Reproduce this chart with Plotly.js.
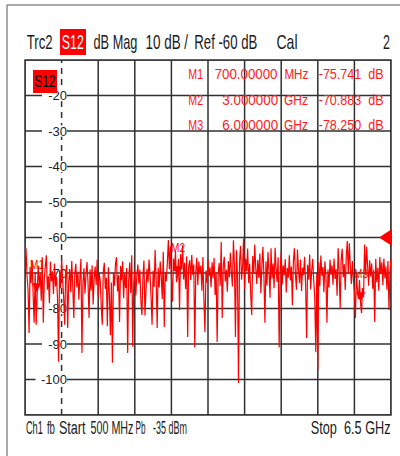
<!DOCTYPE html>
<html><head><meta charset="utf-8">
<script src="https://cdn.plot.ly/plotly-3.0.1.min.js"></script>
<style>html,body{margin:0;padding:0;background:#fff;} #chart{width:400px;height:456px;}</style>
</head><body><div id="chart"></div>
<script>
// ---- data ----
const startGHz = 0.5;
const stopGHz = 6.5;
const s12dB = [
 -65.2,-63.0,-70.8,-74.6,-86.9,-68.3,-72.9,-66.4,-76.1,-84.0,
 -69.7,-84.6,-75.741,-67.9,-73.3,-70.2,-77.8,-65.6,-84.0,-71.4,
 -68.1,-65.0,-74.7,-70.9,-78.5,-66.8,-72.4,-69.5,-75.9,-67.3,
 -73.8,-71.0,-77.2,-95.0,-69.2,-74.3,-66.1,-71.8,-76.6,-84.6,
 -70.5,-67.7,-85.5,-72.6,-68.9,-75.4,-66.6,-73.7,-82.7,-70.1,
 -67.4,-74.0,-69.6,-77.5,-71.2,-66.0,-92.5,-73.1,-68.7,-75.8,
 -70.4,-66.9,-72.8,-82.7,-69.0,-74.9,-67.8,-78.9,-71.6,-68.2,
 -73.4,-66.3,-76.7,-70.0,-72.2,-79.4,-84.6,-69.8,-67.1,-74.5,
 -71.3,-85.0,-68.4,-76.0,-87.5,-72.7,-95.3,-69.9,-73.6,-67.5,
 -65.5,-75.2,-70.6,-83.8,-68.0,-72.1,-66.7,-77.1,-70.3,-74.2,
 -68.6,-92.5,-71.9,-67.0,-75.6,-65.0,-90.8,-72.5,-69.3,-76.3,
 -70.7,-67.6,-73.0,-69.1,-78.0,-81.8,-71.1,-66.5,-82.0,-74.8,
 -68.8,-72.6,-66.2,-70.4,-76.8,-84.6,-69.4,-73.9,-63.5,-71.7,
 -85.5,-68.5,-74.1,-66.8,-70.9,-77.3,-64.0,-85.2,-69.7,-72.3,
 -67.2,-60.7,-68.9,-62.5,-71.0,-78.0,-65.9,-69.4,-63.8,-72.6,
 -70.883,-66.0,-80.4,-64.7,-69.0,-62.2,-71.8,-67.1,-74.5,-65.3,
 -88.0,-68.2,-66.4,-72.0,-64.9,-70.5,-67.6,-91.0,-69.8,-65.7,
 -73.4,-66.8,-70.2,-67.9,-75.0,-65.5,-77.6,-86.6,-69.3,-72.7,
 -66.1,-70.8,-68.4,-74.0,-67.0,-71.5,-65.8,-76.2,-69.9,-89.4,
 -70.3,-67.2,-73.6,-61.3,-82.7,-68.1,-65.4,-72.4,-69.0,-75.3,
 -66.6,-71.2,-64.3,-69.7,-73.8,-60.8,-67.5,-88.0,-63.6,-70.6,
 -101.0,-66.9,-62.4,-71.9,-68.3,-60.3,-74.4,-66.0,-69.5,-63.1,
 -72.8,-67.4,-76.0,-81.8,-65.2,-70.0,-62.0,-68.7,-73.1,-66.3,
 -71.4,-64.5,-75.7,-68.0,-62.6,-70.9,-84.0,-66.7,-73.5,-64.1,
 -69.2,-77.0,-63.0,-71.6,-67.3,-74.3,-62.9,-68.8,-72.5,-65.6,
 -91.0,-69.6,-64.0,-73.2,-67.8,-70.7,-66.1,-75.5,-68.6,-71.3,
 -65.0,-72.1,-68.2,-79.0,-66.5,-63.0,-70.4,-74.7,-63.4,-69.1,
 -72.9,-66.2,-75.1,-68.5,-70.6,-65.4,-73.0,-88.3,-67.7,-71.8,
 -64.8,-74.6,-69.3,-66.0,-72.2,-76.9,-92.3,-70.1,-97.3,-67.0,
 -73.7,-65.1,-70.8,-68.3,-75.4,-66.7,-71.0,-84.0,-69.0,-74.1,
 -66.3,-70.5,-67.8,-73.3,-65.9,-71.7,-68.9,-76.4,-63.0,-69.6,
 -80.0,-66.1,-63.2,-71.2,-67.5,-74.8,-65.3,-61.0,-70.2,-61.6,
 -68.4,-73.1,-66.6,-71.9,-75.2,-82.7,-69.7,-74.9,-77.3,-72.0,
 -78.25,-81.3,-74.2,-76.8,-62.0,-70.5,-62.6,-68.0,-73.6,-66.4,
 -71.0,-67.3,-74.4,-69.1,-83.8,-66.0,-72.6,-68.5,-75.0,-65.5,
 -70.3,-67.0,-73.4,-65.9,-71.5,-68.2,-74.7,-66.6,-80.4,-69.4,
 -66.0
];
const markerNames = ['M1', 'M2', 'M3'];
const markerFreqGHz = [0.7, 3.0, 6.0];
const markerValdB = [-75.741, -70.883, -78.250];
const markerStimText = ['700.00000', '3.000000', '6.000000'];
const markerUnitText = ['MHz', 'GHz', 'GHz'];
const markerRespText = ['-75.741\u00a0 dB', '-70.883\u00a0 dB', '-78.250\u00a0 dB'];
const yTickVals = [-20, -30, -40, -50, -60, -70, -80, -90, -100];
const yTickText = ['-20', '-30', '-40', '-50', '-60', '-70', '-80', '-90', '-100'];
const yMin = -110, yMax = -10, yDiv = 10;
const xDiv = 0.6;
const refLevel = -60;
const headerTexts = ['Trc2', 'S12', 'dB Mag', '10 dB /', 'Ref -60 dB', 'Cal', '2'];
const footerTexts = ['Ch1', 'fb', 'Start', '500 MHz', 'Pb', '-35 dBm', 'Stop\u00a0 6.5 GHz'];
const traceLabel = 'S12';

// ---- layout helpers (pixel -> paper) ----
const L = 25, T = 60, W = 366, H = 355;
const PX = p => (p - L) / W;
const PY = p => (T + H - p) / H;
const FONT = 'Liberation Sans, Arial, sans-serif';
const GRID = '#303030';

const freqs = s12dB.map((_, i) => startGHz + i * (stopGHz - startGHz) / (s12dB.length - 1));

const annotations = [];
const annWidths = [];
function addText(text, cx, cy, size, width, color) {
  annotations.push({text: text, xref: 'paper', yref: 'paper', x: PX(cx), y: PY(cy),
    xanchor: 'center', yanchor: 'middle', showarrow: false, borderpad: 0,
    font: {family: FONT, size: size, color: color}});
  annWidths.push(width);
}
// header
const headerGeom = [[39, 26], [73, 22], [115, 44], [166.5, 43], [225.5, 63], [286.5, 21], [386.5, 7]];
headerTexts.forEach((t, i) => addText(t, headerGeom[i][0], 42, 20, headerGeom[i][1], i === 1 ? '#ffffff' : '#1a1a1a'));
// footer
const footerGeom = [[34.5, 17], [51, 8], [72.5, 27], [111.5, 43], [140, 10], [170, 34], [350, 80]];
footerTexts.forEach((t, i) => addText(t, footerGeom[i][0], 427, 19, footerGeom[i][1], '#1a1a1a'));
// trace label inside plot
addText(traceLabel, 45, 81.5, 17, 21, '#000000');
// marker table
const rowY = [74, 100, 125];
markerNames.forEach((m, i) => {
  addText(m, 195.5, rowY[i], 14, 15, '#ff1a1a');
  const sw = markerStimText[i].length * 7;
  addText(markerStimText[i], 278 - sw / 2, rowY[i], 14, sw, '#ff1a1a');
  addText(markerUnitText[i], 296, rowY[i], 14, 24, '#ff1a1a');
  addText(markerRespText[i], 350.5, rowY[i], 14, 65, '#ff1a1a');
});
// marker symbols on trace
markerNames.forEach((m, i) => {
  annotations.push({text: '▼', x: markerFreqGHz[i], y: markerValdB[i], xref: 'x', yref: 'y',
    xanchor: 'center', yanchor: 'bottom', yshift: -3, showarrow: false,
    font: {family: 'DejaVu Sans', size: 12, color: '#ff0000'}});
  annWidths.push(0);
  annotations.push({text: m, x: markerFreqGHz[i], y: markerValdB[i], xref: 'x', yref: 'y',
    xanchor: 'center', yanchor: 'bottom', yshift: 20, showarrow: false, borderpad: 0,
    font: {family: FONT, size: 13, color: '#ff0000'}});
  annWidths.push(14);
});

const shapes = [];
// grid (below traces)
const nX = Math.round((stopGHz - startGHz) / xDiv);
for (let k = 0; k <= nX; k++) {
  const xv = startGHz + k * xDiv;
  shapes.push({type: 'line', xref: 'x', yref: 'paper', x0: xv, x1: xv, y0: 0, y1: 1,
    line: {color: GRID, width: 1.5, dash: k === 1 ? '6px,5px' : 'solid'}, layer: 'below'});
}
for (let v = yMin; v <= yMax; v += yDiv) {
  shapes.push({type: 'line', xref: 'paper', yref: 'y', x0: 0, x1: 1, y0: v, y1: v,
    line: {color: GRID, width: 1.5}, layer: 'below'});
}
// white boxes behind y labels (break gridlines)
yTickVals.forEach((v, i) => {
  const x0 = 67 - 6.5 * yTickText[i].length - 5.5;
  shapes.push({type: 'rect', xref: 'paper', yref: 'y', x0: PX(x0), x1: PX(67), y0: v - 1.6, y1: v + 1.6,
    fillcolor: '#ffffff', line: {width: 0}, layer: 'below'});
});
// plot border
shapes.push({type: 'rect', xref: 'paper', yref: 'paper', x0: 0, x1: 1, y0: 0, y1: 1,
  line: {color: GRID, width: 1.5}, layer: 'below'});
// outer frame (left + top)
shapes.push({type: 'line', xref: 'paper', yref: 'paper', x0: PX(7), x1: PX(7), y0: PY(5), y1: PY(456), line: {color: '#555', width: 1}});
shapes.push({type: 'line', xref: 'paper', yref: 'paper', x0: PX(7), x1: PX(400), y0: PY(5), y1: PY(5), line: {color: '#555', width: 1}});
// red box in header
shapes.push({type: 'rect', xref: 'paper', yref: 'paper', x0: PX(60), x1: PX(86), y0: PY(55), y1: PY(29),
  fillcolor: '#ff0000', line: {width: 0}, layer: 'above'});
// red box for trace label
shapes.push({type: 'rect', xref: 'paper', yref: 'paper', x0: PX(33), x1: PX(57), y0: PY(93), y1: PY(70),
  fillcolor: '#ff0000', line: {width: 0}, layer: 'above'});
// reference level arrow
shapes.push({type: 'path', xref: 'paper', yref: 'y',
  path: `M ${PX(392)} ${refLevel + 2.4} L ${PX(379)} ${refLevel} L ${PX(392)} ${refLevel - 2.4} Z`,
  fillcolor: '#ff0000', line: {color: '#ff0000', width: 0}, layer: 'above'});

const data = [{
  type: 'scatter', mode: 'lines', x: freqs, y: s12dB,
  line: {color: '#ff0000', width: 1.2, simplify: false}, hoverinfo: 'skip'
}];

const layout = {
  width: 400, height: 456,
  margin: {l: L, r: 400 - L - W, t: T, b: 456 - T - H},
  paper_bgcolor: '#ffffff', plot_bgcolor: '#ffffff',
  showlegend: false,
  xaxis: {range: [startGHz, stopGHz], showticklabels: false, ticks: '',
    showgrid: false, zeroline: false, showline: false, fixedrange: true},
  yaxis: {range: [yMin, yMax], tickvals: yTickVals, ticktext: yTickText, ticks: '',
    anchor: 'free', position: PX(67), side: 'left', layer: 'below traces',
    tickfont: {family: FONT, size: 13, color: '#222'},
    showgrid: false, zeroline: false, showline: false, fixedrange: true},
  annotations: annotations,
  shapes: shapes
};

Plotly.newPlot('chart', data, layout, {staticPlot: true, displayModeBar: false}).then(gd => {
  gd.querySelectorAll('g.annotation').forEach(g => {
    const idx = +g.getAttribute('data-index');
    const w = annWidths[idx];
    if (!w) return;
    const t = g.querySelector('text.annotation-text');
    if (!t) return;
    const bb = t.getBBox();
    if (!bb.width) return;
    const f = w / bb.width;
    const cx = bb.x + bb.width / 2;
    const prev = t.getAttribute('transform') || '';
    t.setAttribute('transform', `translate(${cx * (1 - f)},0) scale(${f},1) ${prev}`);
    const r = g.querySelector('rect.bg');
    if (r) {
      const ow = +r.getAttribute('width');
      const nw = w;
      r.setAttribute('x', +r.getAttribute('x') + (ow - nw) / 2);
      r.setAttribute('width', nw);
    }
  });
});
</script>
</body></html>
